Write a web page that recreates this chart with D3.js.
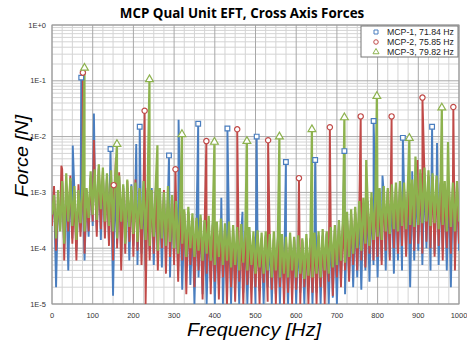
<!DOCTYPE html>
<html>
<head>
<meta charset="utf-8">
<script src="https://cdn.jsdelivr.net/npm/d3@7"></script>
<style>
  body { margin: 0; background: #fff; }
  text { font-family: "Liberation Sans", Arial, sans-serif; }
</style>
</head>
<body>
<svg id="chart" width="467" height="343"></svg>
<script>
// --- data ---
const floorStep = 5; // Hz between noise-floor samples, 0..1000

const floorBlue = [
  3e-4, 1.1e-3, 2e-5, 8e-4, 2.2e-4, 1.5e-3, 1e-4, 1.2e-3, 4e-5, 1.6e-3,
  1.5e-4, 1.1e-3, 9e-5, 8e-4, 2e-4, 1.2e-3, 6e-5, 1e-3, 1.6e-4, 2e-3,
  2.5e-4, 2.4e-3, 2e-4, 2.6e-3, 1.4e-4, 2e-3, 2.4e-4, 1.9e-3, 1.3e-4, 1.8e-3,
  1.4e-5, 1.4e-3, 1.2e-4, 1.9e-3, 7e-5, 1.3e-3, 1.5e-4, 1.2e-3, 6e-5, 1.4e-3,
  1.1e-4, 1.3e-3, 5e-5, 1.5e-3, 8e-5, 1e-3, 4e-5, 1.1e-3, 9e-5, 1.2e-3,
  5e-5, 1.1e-3, 1e-4, 8e-4, 4.5e-5, 1e-3, 8e-5, 9e-4, 3e-5, 7e-4,
  7e-5, 6e-4, 4e-5, 5.5e-4, 1.8e-5, 4e-4, 5e-5, 4.5e-4, 2.2e-5, 3e-4,
  1e-5, 2.8e-4, 3e-5, 3.2e-4, 1.5e-5, 3e-4, 1e-5, 2.7e-4, 2.5e-5, 2.8e-4,
  1e-5, 2.4e-4, 2.2e-5, 2.3e-4, 1e-5, 2.5e-4, 1.8e-5, 2.1e-4, 1e-5, 2.2e-4,
  2e-5, 1.9e-4, 1e-5, 2e-4, 1.6e-5, 1.8e-4, 1e-5, 1.7e-4, 2.2e-5, 1.6e-4,
  1e-5, 1.6e-4, 1.7e-5, 1.4e-4, 1e-5, 1.7e-4, 2e-5, 1.5e-4, 1e-5, 1.4e-4,
  1.5e-5, 1.5e-4, 1e-5, 1.3e-4, 2.2e-5, 1.4e-4, 1e-5, 1.4e-4, 1.8e-5, 1.5e-4,
  1e-5, 1.4e-4, 1.6e-5, 1.3e-4, 1e-5, 1.5e-4, 2e-5, 1.4e-4, 1e-5, 1.5e-4,
  1.6e-5, 1.6e-4, 1e-5, 1.7e-4, 2e-5, 1.8e-4, 1e-5, 1.9e-4, 1.3e-5, 2.1e-4,
  1e-5, 2.5e-4, 2.5e-5, 2.8e-4, 1.5e-5, 3.2e-4, 3e-5, 3.6e-4, 2e-5, 4.2e-4,
  3e-5, 5e-4, 1.8e-5, 6e-4, 4e-5, 7e-4, 2.5e-5, 7.5e-4, 5e-5, 8.5e-4,
  3e-5, 9e-4, 6e-5, 1e-3, 4e-5, 1.1e-3, 7e-5, 1e-3, 3.5e-5, 1.2e-3,
  6e-5, 1.3e-3, 4e-5, 1.2e-3, 8e-5, 1.4e-3, 2e-5, 1.3e-3, 6e-5, 1.5e-3,
  9e-5, 2e-3, 5e-5, 2.2e-3, 1e-4, 1.9e-3, 4e-5, 1.8e-3, 8e-5, 1.6e-3,
  5e-5, 1.4e-3, 9e-5, 1.3e-3, 4e-5, 1.5e-3, 2e-5, 1.2e-3, 7e-5, 1.3e-3,
  9e-5
];

const floorRed = [
  2.5e-4, 1.3e-3, 9e-5, 6e-4, 3e-4, 2.6e-3, 6e-5, 1.4e-3, 2e-4, 2e-3,
  1.2e-4, 9e-4, 6e-5, 1.4e-3, 1.6e-4, 1e-3, 8e-5, 1.1e-3, 2e-4, 1.8e-3,
  3e-4, 2.2e-3, 1.6e-4, 2.8e-3, 2.2e-4, 2.4e-3, 1.5e-4, 1.8e-3, 1.1e-4, 2.1e-3,
  6e-5, 1.5e-3, 1e-4, 2.3e-3, 4e-5, 1.2e-3, 8e-5, 1.6e-3, 1.3e-4, 1.1e-3,
  7e-5, 1.7e-3, 9e-5, 1.1e-3, 5e-5, 1.4e-3, 1e-5, 1.2e-3, 6e-5, 1e-3,
  8e-5, 1.2e-3, 4e-5, 9e-4, 1e-4, 1.1e-3, 3.5e-5, 8e-4, 7e-5, 9e-4,
  5e-5, 6e-4, 2.5e-5, 5e-4, 6e-5, 4.5e-4, 1.5e-5, 4e-4, 5e-5, 3.5e-4,
  2e-5, 3e-4, 4e-5, 3.5e-4, 1.2e-5, 2.8e-4, 3.5e-5, 3e-4, 1.5e-5, 2.6e-4,
  2.5e-5, 2.6e-4, 1.2e-5, 2.4e-4, 3e-5, 2.2e-4, 1e-5, 2.5e-4, 2e-5, 2e-4,
  1.1e-5, 2e-4, 2.5e-5, 1.8e-4, 1e-5, 1.9e-4, 2.2e-5, 1.7e-4, 1e-5, 1.6e-4,
  2e-5, 1.7e-4, 1e-5, 1.5e-4, 2.4e-5, 1.6e-4, 1.1e-5, 1.4e-4, 1.8e-5, 1.5e-4,
  1e-5, 1.4e-4, 2e-5, 1.5e-4, 1e-5, 1.3e-4, 1.6e-5, 1.5e-4, 1e-5, 1.4e-4,
  1.8e-5, 1.3e-4, 1e-5, 1.4e-4, 2e-5, 1.3e-4, 1e-5, 1.5e-4, 1.6e-5, 1.6e-4,
  1e-5, 1.7e-4, 2e-5, 1.6e-4, 1e-5, 1.9e-4, 2.5e-5, 2e-4, 1.4e-5, 2.2e-4,
  3e-5, 2.6e-4, 2e-5, 3e-4, 4e-5, 3.5e-4, 2.5e-5, 4e-4, 5e-5, 4.5e-4,
  4e-5, 5.5e-4, 6e-5, 6.5e-4, 4.5e-5, 7e-4, 8e-5, 8e-4, 6e-5, 9e-4,
  7e-5, 1e-3, 5e-5, 1.1e-3, 9e-5, 1e-3, 6e-5, 1.2e-3, 1e-4, 1.3e-3,
  8e-5, 1.4e-3, 1.1e-4, 1.2e-3, 7e-5, 1.5e-3, 1.2e-4, 1.4e-3, 9e-5, 1.7e-3,
  1.2e-4, 2.2e-3, 8e-5, 2.4e-3, 1.3e-4, 2e-3, 1e-4, 1.9e-3, 7e-5, 1.7e-3,
  1.1e-4, 1.5e-3, 6e-5, 1.4e-3, 1e-4, 1.5e-3, 8e-5, 1.3e-3, 4e-5, 1.4e-3,
  1.2e-4
];

const floorGreen = [
  4e-4, 9e-4, 1.5e-4, 1.1e-3, 2e-4, 1.6e-3, 1.2e-4, 2.2e-3, 3e-4, 1.8e-3,
  2.5e-4, 1.3e-3, 1.4e-4, 1.1e-3, 2.8e-4, 1.5e-3, 2e-4, 1.2e-3, 3.5e-4, 2.4e-3,
  4e-4, 2.6e-3, 3.2e-4, 3.2e-3, 5e-4, 2.8e-3, 3e-4, 2.2e-3, 2.5e-4, 2.5e-3,
  2e-4, 1.8e-3, 1.5e-4, 2e-3, 3e-4, 1.4e-3, 1.2e-4, 1.7e-3, 2.4e-4, 1.3e-3,
  1.8e-4, 1.5e-3, 1.3e-4, 1.2e-3, 2.2e-4, 1.6e-3, 1.4e-4, 1.3e-3, 1.1e-4, 1.1e-3,
  1.6e-4, 1.4e-3, 9e-5, 1.2e-3, 1.5e-4, 1e-3, 1.1e-4, 1.3e-3, 1.3e-4, 9e-4,
  1e-4, 7e-4, 8e-5, 6.5e-4, 1.2e-4, 5e-4, 7e-5, 5.5e-4, 1e-4, 4.2e-4,
  7e-5, 3.5e-4, 9e-5, 4e-4, 6e-5, 3.2e-4, 8e-5, 3.8e-4, 6e-5, 3.3e-4,
  5e-5, 3e-4, 7e-5, 3.4e-4, 5e-5, 2.8e-4, 6e-5, 3e-4, 4.5e-5, 2.6e-4,
  5e-5, 2.4e-4, 4e-5, 2.7e-4, 5.5e-5, 2.2e-4, 4e-5, 2.4e-4, 5e-5, 2e-4,
  3.5e-5, 2.1e-4, 4.5e-5, 1.9e-4, 3.5e-5, 2e-4, 4e-5, 1.8e-4, 3e-5, 2e-4,
  4e-5, 1.7e-4, 3e-5, 1.8e-4, 3.5e-5, 1.6e-4, 3e-5, 1.9e-4, 4e-5, 1.6e-4,
  3e-5, 1.7e-4, 3.5e-5, 1.5e-4, 2.8e-5, 1.8e-4, 3.2e-5, 1.6e-4, 3e-5, 1.9e-4,
  3.5e-5, 2e-4, 3e-5, 2.2e-4, 4e-5, 2e-4, 3.5e-5, 2.4e-4, 4.5e-5, 2.6e-4,
  5e-5, 3.2e-4, 6e-5, 3.8e-4, 5.5e-5, 4.5e-4, 7e-5, 5e-4, 8e-5, 5.5e-4,
  1e-4, 7e-4, 9e-5, 8e-4, 1.2e-4, 9e-4, 1.1e-4, 1e-3, 1.4e-4, 1.1e-3,
  1.6e-4, 1.2e-3, 1.4e-4, 1.3e-3, 2e-4, 1.2e-3, 1.8e-4, 1.4e-3, 2.2e-4, 1.5e-3,
  2e-4, 1.6e-3, 2.5e-4, 1.5e-3, 2.2e-4, 1.8e-3, 2.6e-4, 1.7e-3, 2.4e-4, 2e-3,
  2.6e-4, 2.6e-3, 2.8e-4, 2.8e-3, 3e-4, 2.5e-3, 2.5e-4, 2.2e-3, 2.8e-4, 2e-3,
  2.2e-4, 1.8e-3, 2.6e-4, 1.6e-3, 2e-4, 1.7e-3, 2.4e-4, 1.5e-3, 2e-4, 1.6e-3,
  3e-4
];

// marked harmonic peaks
const peakFreqBlue = [71.84, 143.7, 215.5, 287.4, 359.2, 431.0, 502.9, 574.7, 646.6, 718.4, 790.2, 862.1, 933.9];
const peakValBlue = [0.114, 0.006, 0.015, 0.0046, 0.017, 0.014, 0.010, 0.0035, 0.0038, 0.0055, 0.019, 0.0095, 0.015];

const peakFreqRed = [75.85, 151.7, 227.6, 303.4, 379.3, 455.1, 531.0, 606.8, 682.7, 758.5, 834.4, 910.2, 986.1];
const peakValRed = [0.14, 0.00135, 0.029, 0.0026, 0.0083, 0.0135, 0.0086, 0.0018, 0.0147, 0.023, 0.023, 0.05, 0.034];

const peakFreqGreen = [79.82, 159.6, 239.5, 319.3, 399.1, 478.9, 558.7, 638.6, 718.4, 798.2, 878.0, 957.8];
const peakValGreen = [0.17, 0.0073, 0.106, 0.011, 0.008, 0.0083, 0.010, 0.0135, 0.022, 0.053, 0.0094, 0.033];

// unmarked spurs [Hz, N]
const spursBlue = [[51, 0.0069], [103, 0.026], [207, 0.0074], [311, 0.02], [416, 8e-4], [468, 4.5e-4], [812, 0.002], [885, 0.0024], [946, 0.0077]];
const spursRed = [[23, 0.003], [103, 0.0087], [157, 0.0042], [898, 0.0038]];
const spursGreen = [[259, 0.007], [772, 0.0038], [893, 0.0044], [973, 0.008]];

const seriesNames = ['MCP-1,  71.84 Hz', 'MCP-2,  75.85 Hz', 'MCP-3,  79.82 Hz'];
const seriesColors = ['#4a7ebf', '#c04a48', '#8db24e'];
const seriesSymbols = [d3.symbolSquare, d3.symbolCircle, d3.symbolTriangle];

const xTicks = [0, 100, 200, 300, 400, 500, 600, 700, 800, 900, 1000];
const yTicks = [1, 1e-1, 1e-2, 1e-3, 1e-4, 1e-5];
const yTickLabels = ['1E+0', '1E-1', '1E-2', '1E-3', '1E-4', '1E-5'];

// --- chart ---
const svg = d3.select('#chart');
const plotL = 52, plotR = 459, plotT = 25, plotB = 304;

const x = d3.scaleLinear().domain([0, 1000]).range([plotL, plotR]);
const y = d3.scaleLog().domain([1e-5, 1]).range([plotB, plotT]);

// gridlines
const grid = svg.append('g');
const minorX = d3.range(0, 1001, 25).filter(d => d % 100 !== 0);
grid.selectAll('.mx').data(minorX).join('line')
  .attr('x1', d => x(d)).attr('x2', d => x(d))
  .attr('y1', plotT).attr('y2', plotB)
  .attr('stroke', '#d4d4d4').attr('stroke-width', 1);

const minorY = [];
yTicks.slice(1).forEach(dec => {
  for (let m = 2; m <= 9; m++) minorY.push(dec * m);
});
grid.selectAll('.my').data(minorY).join('line')
  .attr('x1', plotL).attr('x2', plotR)
  .attr('y1', d => y(d)).attr('y2', d => y(d))
  .attr('stroke', '#d4d4d4').attr('stroke-width', 1);

grid.selectAll('.Mx').data(xTicks).join('line')
  .attr('x1', d => x(d)).attr('x2', d => x(d))
  .attr('y1', plotT).attr('y2', plotB)
  .attr('stroke', '#a8a8a8').attr('stroke-width', 1);

grid.selectAll('.My').data(yTicks).join('line')
  .attr('x1', plotL).attr('x2', plotR)
  .attr('y1', d => y(d)).attr('y2', d => y(d))
  .attr('stroke', '#a8a8a8').attr('stroke-width', 1);

svg.append('rect')
  .attr('x', plotL).attr('y', plotT)
  .attr('width', plotR - plotL).attr('height', plotB - plotT)
  .attr('fill', 'none').attr('stroke', '#999');

// clip for the traces
svg.append('clipPath').attr('id', 'plotClip')
  .append('rect').attr('x', plotL).attr('y', plotT)
  .attr('width', plotR - plotL).attr('height', plotB - plotT);

function buildPoints(floor, peakF, peakV, spurs) {
  const pts = floor.map((v, i) => [i * floorStep, v]);
  peakF.forEach((f, i) => pts.push([f, peakV[i]]));
  spurs.forEach(s => pts.push(s));
  return pts.sort((a, b) => a[0] - b[0]);
}

const series = [
  { pts: buildPoints(floorBlue, peakFreqBlue, peakValBlue, spursBlue), pf: peakFreqBlue, pv: peakValBlue },
  { pts: buildPoints(floorRed, peakFreqRed, peakValRed, spursRed), pf: peakFreqRed, pv: peakValRed },
  { pts: buildPoints(floorGreen, peakFreqGreen, peakValGreen, spursGreen), pf: peakFreqGreen, pv: peakValGreen }
];

const line = d3.line()
  .x(d => x(d[0]))
  .y(d => y(Math.max(d[1], 1e-5)));

const traces = svg.append('g').attr('clip-path', 'url(#plotClip)');
series.forEach((s, i) => {
  traces.append('path')
    .attr('d', line(s.pts))
    .attr('fill', 'none')
    .attr('stroke', seriesColors[i])
    .attr('stroke-width', i === 2 ? 2.2 : 1.9)
    .attr('stroke-linejoin', 'bevel');
});

// peak markers
series.forEach((s, i) => {
  const sym = d3.symbol().type(seriesSymbols[i]).size(i === 2 ? 26 : 22);
  svg.append('g').selectAll('path')
    .data(s.pf.map((f, j) => [f, s.pv[j]]))
    .join('path')
    .attr('d', sym)
    .attr('transform', d => `translate(${x(d[0])},${y(d[1])})`)
    .attr('fill', '#fff')
    .attr('stroke', seriesColors[i])
    .attr('stroke-width', 1.2);
});

// axis labels
svg.append('g').selectAll('text').data(xTicks).join('text')
  .attr('x', d => x(d)).attr('y', 318)
  .attr('text-anchor', 'middle')
  .attr('font-size', 7.5).attr('fill', '#333')
  .text(d => d);

svg.append('g').selectAll('text').data(yTicks).join('text')
  .attr('x', 46).attr('y', d => y(d) + 2.5)
  .attr('text-anchor', 'end')
  .attr('font-size', 7.5).attr('fill', '#333')
  .text((d, i) => yTickLabels[i]);

svg.append('text')
  .attr('x', 242).attr('y', 18)
  .attr('text-anchor', 'middle')
  .attr('font-size', 13.4).attr('font-weight', 'bold')
  .style('font-family', '"Open Sans", sans-serif')
  .text('MCP Qual Unit EFT, Cross Axis Forces');

svg.append('text')
  .attr('x', 254).attr('y', 336)
  .attr('text-anchor', 'middle')
  .attr('font-size', 18).attr('font-style', 'italic')
  .attr('textLength', 134).attr('lengthAdjust', 'spacingAndGlyphs')
  .text('Frequency [Hz]');

svg.append('text')
  .attr('transform', 'translate(28,156) rotate(-90)')
  .attr('text-anchor', 'middle')
  .attr('font-size', 18).attr('font-style', 'italic')
  .attr('textLength', 82).attr('lengthAdjust', 'spacingAndGlyphs')
  .text('Force [N]');

// legend
const legend = svg.append('g');
legend.append('rect')
  .attr('x', 361).attr('y', 26).attr('width', 97).attr('height', 31)
  .attr('fill', '#fff').attr('stroke', '#777');
seriesNames.forEach((name, i) => {
  const ly = 32 + i * 10;
  legend.append('path')
    .attr('d', d3.symbol().type(seriesSymbols[i]).size(16)())
    .attr('transform', `translate(376,${ly})`)
    .attr('fill', '#fff').attr('stroke', seriesColors[i]).attr('stroke-width', 1);
  legend.append('text')
    .attr('x', 387).attr('y', ly + 3)
    .attr('font-size', 8.5).attr('fill', '#222')
    .attr('textLength', 67).attr('lengthAdjust', 'spacingAndGlyphs')
    .text(name);
});
</script>
</body>
</html>
